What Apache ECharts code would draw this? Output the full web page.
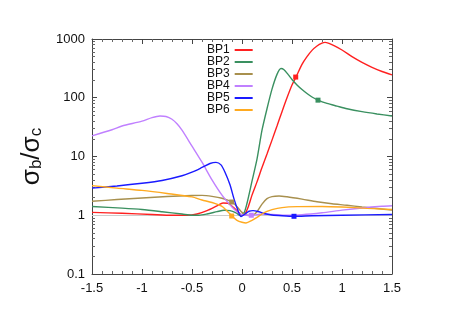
<!DOCTYPE html>
<html><head><meta charset="utf-8">
<script src="https://cdn.jsdelivr.net/npm/echarts@6/dist/echarts.min.js"></script>
<style>html,body{margin:0;padding:0;background:#fff}#c{width:452px;height:320px}</style>
</head><body><div id="c"></div>
<script>
const names = ['BP1','BP2','BP3','BP4','BP5','BP6'];
const colors = ['#ff2020','#3a9060','#a8904e','#c080ff','#1a1aff','#ffaa20'];
const xTicks = [-1.5,-1,-0.5,0,0.5,1,1.5];
const yTicks = [0.1,1,10,100,1000];

const bp1x = [-1.5,-1.2,-0.9,-0.7,-0.55,-0.45,-0.35,-0.25,-0.19,-0.14,-0.09,-0.04,0,0.03,0.06,0.1,0.15,0.2,0.25,0.3,0.35,0.4,0.45,0.5,0.54,0.6,0.65,0.7,0.75,0.8,0.83,0.87,0.92,1.0,1.1,1.2,1.3,1.4,1.5];
const bp1y = [1.12,1.08,1.03,1.0,1.0,1.05,1.2,1.45,1.62,1.6,1.38,1.15,1.0,1.05,1.35,2.2,3.7,6.5,11,19,33,58,100,165,225,370,500,640,760,850,875,840,770,650,500,400,330,280,245];

const bp2x = [-1.5,-1.2,-1.0,-0.8,-0.6,-0.5,-0.43,-0.35,-0.25,-0.18,-0.12,-0.06,-0.02,0.02,0.05,0.1,0.15,0.2,0.25,0.3,0.35,0.39,0.42,0.46,0.5,0.55,0.6,0.65,0.7,0.76,0.85,0.95,1.05,1.2,1.35,1.5];
const bp2y = [1.41,1.32,1.25,1.15,1.05,1.0,1.0,1.05,1.15,1.22,1.2,1.1,1.0,1.1,1.6,3.8,9,28,65,140,250,315,300,250,205,165,138,118,103,91,80,72,65,58,53,49];

const bp3x = [-1.5,-1.25,-1.0,-0.75,-0.5,-0.4,-0.3,-0.2,-0.1,-0.05,0,0.05,0.1,0.15,0.2,0.25,0.3,0.37,0.45,0.6,0.75,0.9,1.05,1.2,1.35,1.5];
const bp3y = [1.73,1.85,1.97,2.08,2.17,2.18,2.1,1.95,1.68,1.4,1.12,1.0,0.99,1.15,1.55,1.92,2.08,2.13,2.06,1.88,1.7,1.57,1.48,1.38,1.3,1.22];

const bp4x = [-1.5,-1.3,-1.2,-1.0,-0.9,-0.82,-0.76,-0.7,-0.65,-0.6,-0.5,-0.4,-0.3,-0.2,-0.1,-0.05,0,0.05,0.1,0.2,0.3,0.45,0.6,0.8,1.0,1.2,1.4,1.5];
const bp4y = [22.5,28.5,33,40,46,49,48,43,36,28,15,8,4.0,2.2,1.38,1.15,1.02,1.0,1.0,1.05,1.03,1.0,1.02,1.1,1.22,1.33,1.42,1.45];

const bp5x = [-1.5,-1.25,-1.0,-0.8,-0.6,-0.5,-0.4,-0.32,-0.26,-0.21,-0.17,-0.12,-0.08,-0.04,-0.01,0.03,0.07,0.11,0.16,0.22,0.3,0.4,0.52,0.7,1.0,1.5];
const bp5y = [2.9,3.15,3.5,3.9,4.7,5.4,6.5,7.6,7.95,7.2,5.4,3.3,1.9,1.2,0.95,1.05,1.17,1.2,1.16,1.07,1.01,0.98,0.96,0.98,1.0,1.03];

const bp6x = [-1.5,-1.25,-1.0,-0.75,-0.5,-0.4,-0.3,-0.2,-0.15,-0.1,-0.05,0,0.04,0.1,0.15,0.2,0.25,0.3,0.4,0.55,0.8,1.0,1.25,1.5];
const bp6y = [3.2,2.9,2.65,2.35,2.05,1.82,1.65,1.42,1.18,0.97,0.82,0.76,0.74,0.82,0.92,1.05,1.16,1.25,1.35,1.4,1.41,1.38,1.31,1.25];

const markX = [0.537,0.76,-0.103,0.093,0.52,-0.103];
const markY = [225,91,1.68,1.0,0.96,0.97];

const xs = [bp1x,bp2x,bp3x,bp4x,bp5x,bp6x];
const ys = [bp1y,bp2y,bp3y,bp4y,bp5y,bp6y];

const font = 'Liberation Sans, Arial, sans-serif';
const chart = echarts.init(document.getElementById('c'), null, {renderer:'canvas'});

const series = names.map((n,i)=>{
  const s = {
    name:n, type:'line', showSymbol:false, smooth:0.25,
    data: xs[i].map((x,k)=>[x, ys[i][k]]),
    lineStyle:{color:colors[i], width:1.4},
    itemStyle:{color:colors[i]},
    z: 3,
    markPoint:{symbol:'rect', symbolSize:5, label:{show:false}, silent:true,
      itemStyle:{color:colors[i]},
      data:[{coord:[markX[i], markY[i]]}]}
  };
  if(i===0){
    s.markLine = {silent:true, symbol:'none', label:{show:false},
      lineStyle:{color:'#cccccc', width:1, type:'solid'},
      data:[{yAxis:1}], z:1};
  }
  return s;
});

const axisLine = {show:true, onZero:false, lineStyle:{color:'#444', width:1}};
const tick = {inside:true, length:5, lineStyle:{color:'#444'}};
const xMinor = {show:true, splitNumber:5, length:3, lineStyle:{color:'#666'}};
const yMinor = {show:true, splitNumber:9, length:3, lineStyle:{color:'#666'}};
chart.setOption({
  animation:false,
  textStyle:{fontFamily:font},
  grid:{left:92, right:60, top:39, bottom:46},
  legend:{
    data:names.map((n,i)=>({name:n, icon:'rect', itemStyle:{color:colors[i]}})),
    orient:'vertical', left:207, top:44, align:'right', padding:0,
    itemWidth:18, itemHeight:2, itemGap:0,
    textStyle:{fontSize:12, color:'#111', lineHeight:12, height:12, fontFamily:font}
  },
  xAxis:[{
    type:'value', min:xTicks[0], max:xTicks[xTicks.length-1], interval:0.5,
    axisLine:axisLine, axisTick:tick, minorTick:xMinor,
    axisLabel:{color:'#111', fontSize:13, margin:8, fontFamily:font},
    splitLine:{show:false}
  },{
    type:'value', position:'top', min:xTicks[0], max:xTicks[xTicks.length-1], interval:0.5,
    axisLine:axisLine, axisTick:tick, minorTick:xMinor,
    axisLabel:{show:false}, splitLine:{show:false}
  }],
  yAxis:[{
    type:'log', logBase:10, min:yTicks[0], max:yTicks[yTicks.length-1],
    axisLine:axisLine, axisTick:tick, minorTick:yMinor,
    axisLabel:{color:'#111', fontSize:13, margin:7, fontFamily:font,
      formatter:v=>String(v)},
    splitLine:{show:false},
    name:'σ{s|b}/σ{s|c}', nameLocation:'middle', nameRotate:90, nameGap:38,
    nameTextStyle:{fontSize:26, color:'#111', fontFamily:font,
      rich:{s:{fontSize:17, verticalAlign:'bottom', fontFamily:font, color:'#111'}}}
  },{
    type:'log', logBase:10, position:'right', min:yTicks[0], max:yTicks[yTicks.length-1],
    axisLine:axisLine, axisTick:tick, minorTick:yMinor,
    axisLabel:{show:false}, splitLine:{show:false}
  }],
  series:series
});
</script>
</body></html>
